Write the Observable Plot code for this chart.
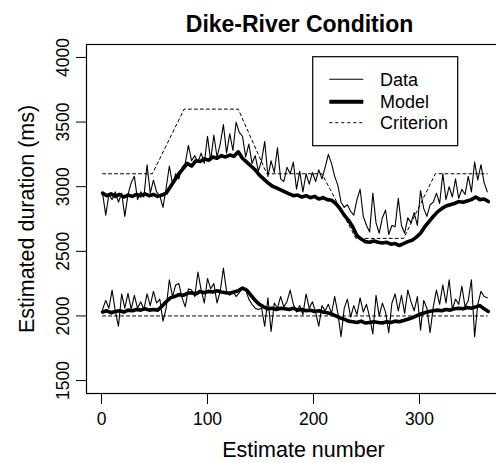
<!DOCTYPE html>
<html><head><meta charset="utf-8">
<script src="https://cdn.jsdelivr.net/npm/d3@7"></script>
<script src="https://cdn.jsdelivr.net/npm/@observablehq/plot@0.6"></script>
<style>
html,body{margin:0;padding:0;background:#fff;overflow:hidden;}
#wrap{position:relative;width:496px;height:463px;overflow:hidden;}
#wrap > svg{max-width:none !important;}
#legend{position:absolute;left:312px;top:56px;}
</style></head><body><div id="wrap"></div>
<script>
const chartTitle = "Dike-River Condition";
const xLabel = "Estimate number";
const yLabel = "Estimated duration (ms)";
const seriesNames = ["Data", "Model", "Criterion"];
const xTicks = [0, 100, 200, 300];
const yTicks = [1500, 2000, 2500, 3000, 3500, 4000];

// estimate numbers of the sampled points: first index and spacing
const dataStart = 1, dataStep = 3;
const modelStart = 1, modelStep = 4;

const upperData = [2950,2780,2940,2900,2960,2880,2950,2770,2940,3030,3080,2900,2960,2920,3170,2950,3050,2960,2930,2840,
  2990,3160,3020,3100,3060,3150,3180,3320,3200,3240,3190,3260,3180,3390,3200,3400,3230,3330,3480,3260,
  3410,3280,3500,3420,3390,3230,3330,3180,3240,3120,3200,3350,3080,3200,3110,3300,3060,3040,3150,3100,
  3190,2980,3120,2960,3100,3020,3110,3040,3130,3060,3150,3250,3180,3080,3010,2880,2840,2860,2810,2780,
  2900,2980,2770,2700,2650,2950,2720,2640,2760,2820,2630,2700,2690,2910,2700,2640,2760,2720,2800,2700,
  2970,2830,2770,2860,2880,2950,2870,3100,2900,3000,2920,3060,2910,2980,2940,3080,2960,3190,3050,3170,
  3030,2960];

const lowerData = [2050,2120,2060,2200,2040,1920,2170,2060,2175,2050,2160,2060,2110,2050,2170,2080,2190,2100,2130,1960,
  2060,2280,2150,2240,2250,2140,2070,2210,2200,2150,2340,2200,2100,2290,2210,2250,2100,2190,2370,2190,
  2160,2190,2150,2180,2220,2200,2130,2090,2060,2050,2060,1920,2140,1880,2100,2060,2150,2070,2110,2200,
  2090,2030,2080,2010,2170,2060,2110,2030,1920,2080,2040,2090,2020,2150,2020,1840,2060,2130,1990,2080,
  2010,2140,2030,2090,1990,1860,2160,2000,2100,2030,1870,2100,2170,2040,2160,2020,2200,2110,2040,2150,
  1890,2120,2060,1870,2070,2200,2090,2240,2100,2280,2050,2130,2090,2230,2070,2120,2280,1840,2090,2190,
  2150,2140];

const upperModel = [2950,2930,2945,2925,2940,2920,2935,2925,2940,2930,2945,2930,2940,2925,2935,2950,3000,3050,3100,3140,
  3180,3160,3200,3195,3215,3205,3230,3220,3240,3230,3245,3235,3270,3220,3190,3160,3130,3090,3060,3030,
  3005,2990,2975,2960,2945,2930,2935,2920,2930,2915,2925,2905,2915,2900,2895,2870,2830,2780,2740,2690,
  2620,2595,2575,2570,2580,2570,2565,2570,2555,2560,2545,2560,2575,2585,2610,2640,2690,2730,2770,2805,
  2830,2850,2860,2870,2885,2880,2890,2900,2920,2900,2905,2885];

const lowerModel = [2030,2040,2025,2035,2040,2030,2045,2040,2050,2045,2055,2045,2050,2045,2075,2110,2140,2150,2165,2160,
  2175,2180,2170,2190,2180,2190,2185,2195,2185,2180,2175,2185,2195,2215,2200,2160,2120,2090,2070,2055,
  2060,2050,2060,2055,2050,2060,2045,2050,2040,2045,2035,2040,2030,2025,2015,2000,1985,1975,1960,1955,
  1950,1960,1945,1950,1955,1950,1945,1955,1950,1960,1955,1965,1975,1985,2000,2015,2025,2035,2040,2045,
  2040,2050,2045,2055,2060,2055,2065,2060,2070,2080,2055,2035];

const upperCriterionX = [1, 48, 78, 129, 156, 208, 240, 285, 315, 364];
const upperCriterionY = [3100, 3100, 3600, 3600, 3100, 3100, 2600, 2600, 3100, 3100];
const lowerCriterionX = [1, 364];
const lowerCriterionY = [2000, 2000];

const sampled = (vals, start, step) => vals.map((v, k) => ({x: start + k * step, y: v}));
const paired = (xs, ys) => xs.map((x, k) => ({x, y: ys[k]}));

const font = "'Liberation Sans', Arial, Helvetica, sans-serif";
const ink = "#000";

const chart = Plot.plot({
  width: 520,
  height: 463,
  marginLeft: 86,
  marginRight: 0,
  marginTop: 44,
  marginBottom: 70,
  style: {fontFamily: font, fontSize: "17.5px", color: ink, background: "#fff", overflow: "visible", maxWidth: "none"},
  x: {domain: [-14.15, 395.3]},
  y: {domain: [1400, 4100]},
  marks: [
    Plot.line(paired(upperCriterionX, upperCriterionY), {x: "x", y: "y", stroke: ink, strokeWidth: 1, strokeDasharray: "3,3"}),
    Plot.line(paired(lowerCriterionX, lowerCriterionY), {x: "x", y: "y", stroke: ink, strokeWidth: 1, strokeDasharray: "3,3"}),
    Plot.line(sampled(upperData, dataStart, dataStep), {x: "x", y: "y", stroke: ink, strokeWidth: 1.1, strokeLinejoin: "round"}),
    Plot.line(sampled(lowerData, dataStart, dataStep), {x: "x", y: "y", stroke: ink, strokeWidth: 1.1, strokeLinejoin: "round"}),
    Plot.line(sampled(upperModel, modelStart, modelStep), {x: "x", y: "y", stroke: ink, strokeWidth: 3.6, strokeLinejoin: "round", strokeLinecap: "round"}),
    Plot.line(sampled(lowerModel, modelStart, modelStep), {x: "x", y: "y", stroke: ink, strokeWidth: 3.6, strokeLinejoin: "round", strokeLinecap: "round"}),
    Plot.frame({stroke: ink, strokeWidth: 1.2}),
    Plot.axisX({ticks: xTicks, tickSize: 11, tickPadding: 8, tickFormat: d => String(d), label: null}),
    Plot.axisY({ticks: yTicks, tickSize: 10, tickPadding: 8, tickRotate: -90, textAnchor: "middle", lineAnchor: "bottom", tickFormat: d => String(d), label: null}),
    Plot.text([xLabel], {text: d => d, frameAnchor: "bottom", textAnchor: "middle", dy: 63, lineAnchor: "bottom", fontSize: 21.5}),
    Plot.text([yLabel], {text: d => d, frameAnchor: "left", textAnchor: "middle", dx: -53, rotate: -90, lineAnchor: "bottom", fontSize: 21.5}),
    Plot.text([chartTitle], {text: d => d, frameAnchor: "top", textAnchor: "middle", dx: -4, dy: -12.3, lineAnchor: "bottom", fontSize: 23, fontWeight: "bold"})
  ]
});
chart.style.maxWidth = "none";

const wrap = document.getElementById("wrap");
wrap.appendChild(chart);

// legend overlay
const legendStyles = [
  {width: 1.1, dash: null},
  {width: 4, dash: null},
  {width: 1, dash: "3,3"}
];
const lg = d3.create("svg").attr("id", "legend").attr("width", 147).attr("height", 92)
  .style("font-family", font).style("position", "absolute").style("left", "312px").style("top", "56px");
lg.append("rect").attr("x", 0.7).attr("y", 0.7).attr("width", 145).attr("height", 89)
  .attr("fill", "#fff").attr("stroke", ink).attr("stroke-width", 1.2);
const rowY = [23.3, 45.7, 66.7];
seriesNames.forEach((name, k) => {
  lg.append("line").attr("x1", 17.3).attr("x2", 51.3).attr("y1", rowY[k]).attr("y2", rowY[k])
    .attr("stroke", ink).attr("stroke-width", legendStyles[k].width)
    .attr("stroke-dasharray", legendStyles[k].dash);
  lg.append("text").attr("x", 68).attr("y", rowY[k]).attr("dy", "0.35em")
    .attr("font-size", 18).attr("fill", ink).text(name);
});
wrap.appendChild(lg.node());
</script>
</body></html>
